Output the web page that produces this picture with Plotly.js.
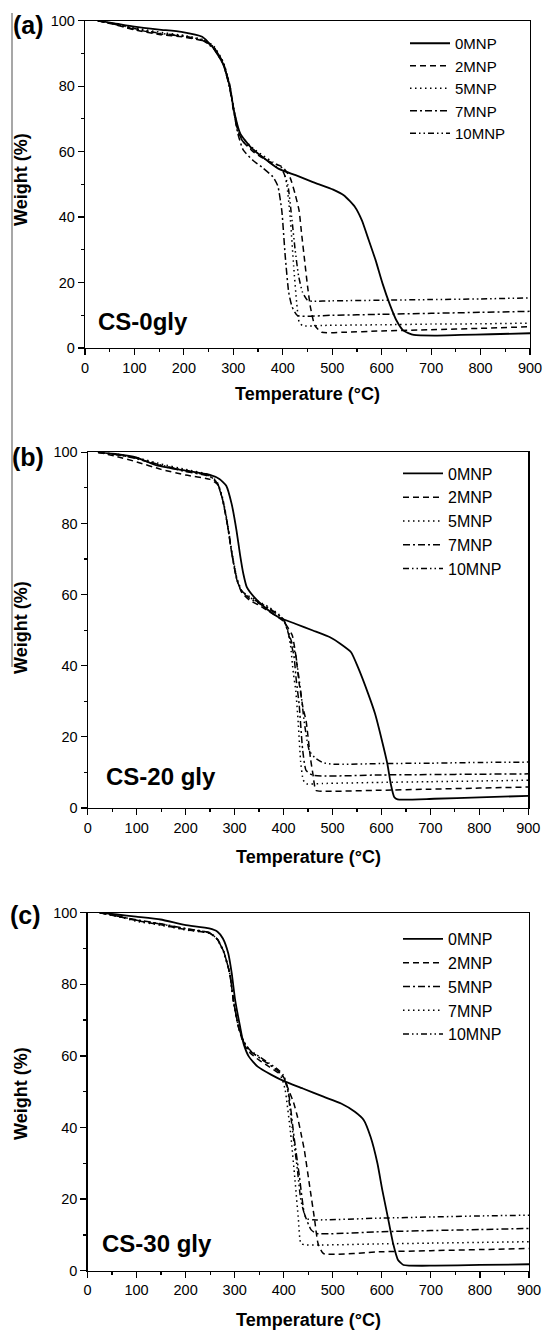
<!DOCTYPE html>
<html>
<head>
<meta charset="utf-8">
<script src="https://cdn.plot.ly/plotly-3.0.1.min.js"></script>
<style>html,body{margin:0;padding:0;background:#fff;}#chart{width:546px;height:1330px;}</style>
</head>
<body>
<div id="chart"></div>
<script>
// ---------- DATA ----------
const seriesNames = ['0MNP', '2MNP', '5MNP', '7MNP', '10MNP'];
const xTickVals = [0, 100, 200, 300, 400, 500, 600, 700, 800, 900];
const yTickVals = [0, 20, 40, 60, 80, 100];
const panelLabels = ['(a)', '(b)', '(c)'];
const sampleLabels = ['CS-0gly', 'CS-20 gly', 'CS-30 gly'];

// Panel (a) CS-0gly
const aT0 = [26,60,100,150,195,237,258,279,293,301,314,335,363,391,426,461,502,524,546,560,574,588,602,616,630,644,665,707,760,820,900];
const aW0 = [100,99.2,98.2,97.3,96.6,95.1,92.0,86.9,79.8,72.7,65.5,61.4,57.9,54.8,52.8,50.7,48.4,46.6,43.1,39,32.9,26.7,19.6,13.5,8.4,5.3,4.0,3.8,4.0,4.2,4.5];
const aT2 = [26,60,100,150,200,240,260,280,293,301,310,320,340,360,380,400,415,425,433,438,444,450,456,465,479,520,600,700,800,900];
const aW2 = [100,98.8,97.2,95.8,95.0,93.8,92.0,87.0,80.0,72.5,66.0,63.0,60.0,58.0,56.5,55.3,52.0,47.0,42.0,35.0,27.0,19.0,12.4,6.8,4.8,4.8,5.2,5.6,6.0,6.5];
const aT5 = [26,60,100,150,200,240,260,280,293,301,310,320,340,360,380,400,408,415,422,428,433,440,480,600,700,800,900];
const aW5 = [100,99,97.8,96.5,95.5,94.2,92.3,87.3,80.3,73,66.5,64,61,58.8,56.8,54.8,50,40,25,14,8,6.8,6.9,7.1,7.3,7.4,7.6];
const aT7 = [26,60,100,150,200,240,260,280,293,301,310,320,340,360,380,390,398,405,412,419,430,500,600,700,800,900];
const aW7 = [100,98.9,97.4,96,95.2,93.8,91.5,86.5,79,72,65,60.5,57.3,55,52.3,49.5,42,28,17,12.5,9.9,10,10.3,10.6,10.9,11.2];
const aT10 = [26,60,100,150,200,240,260,280,293,301,310,320,340,360,380,400,410,418,425,432,440,450,460,500,600,700,800,900];
const aW10 = [100,99,97.6,96.2,95.3,94,92,87,79.5,72.3,65.5,63,60.5,58.2,56,54,50,40,30,22,17,14.6,14.3,14.4,14.6,14.8,15,15.3];

// Panel (b) CS-20 gly
const bT0 = [21,60,99,141,198,248,269,283,294,304,311,318,325,340,361,389,424,460,495,516,538,552,573,587,601,612,619,626,633,708,800,900];
const bW0 = [100,99.5,98.6,96.3,94.9,93.7,92.5,90.6,85.5,78,71.4,65.8,62.1,59.3,56.5,53.7,51.8,49.9,48,46.2,43.8,39.6,32.1,26.5,19,12.5,6.8,3.1,2.4,2.6,3.0,3.4];
const bT2 = [21,60,100,150,200,250,265,275,285,295,305,315,330,350,370,390,400,410,418,425,432,440,446,455,460,466,478,600,700,800,900];
const bW2 = [100,98.8,97.3,95.2,93.6,92.4,91,87,80,71,64,60.5,58.5,57,55.3,53.5,52.5,50.5,48.5,43,35,28,24.6,14,9.6,5,4.7,5.0,5.3,5.6,5.9];
const bT5 = [21,60,100,150,200,250,265,275,285,295,305,315,330,350,370,390,400,408,414,420,425,430,435,440,446,480,600,700,800,900];
const bW5 = [100,99.5,98.5,96.7,95.2,93.6,91.5,87.5,80.5,71.5,64.5,61,59.5,58,56.5,54.5,53,50,46,38,33,24,13,8,6.8,6.9,7.2,7.4,7.6,7.8];
const bT7 = [21,60,100,150,200,250,265,275,285,295,305,315,330,350,370,390,400,410,421,426,432,439,446,460,600,700,800,900];
const bW7 = [100,99.3,98.2,96.2,94.6,93.2,91.2,87,80,71,64,60.8,59,57.5,56,54.2,53,49,43,36,29,16.5,10.6,9.2,9.3,9.4,9.5,9.6];
const bT10 = [21,60,100,150,200,250,265,275,285,295,305,315,330,350,370,390,400,410,418,425,430,435,442,448,453,465,480,502,600,700,800,900];
const bW10 = [100,99.3,98.3,96.4,94.8,93.3,91.3,87.2,80.2,71.2,64.2,61,59.3,57.8,56.2,54.3,53,49.5,46,43,38,33,24.6,19,16,14,12.8,12.3,12.5,12.6,12.8,12.9];

// Panel (c) CS-30 gly
const cT0 = [25,60,99,149,198,248,265,276,287,294,301,311,318,329,347,375,403,439,481,517,545,563,577,591,601,612,623,633,644,708,800,900];
const cW0 = [100,99.5,98.9,98.1,96.6,95.6,94.7,92.8,88.6,83.1,75.6,68.2,63.5,59.8,57,54.7,52.8,50.9,48.6,46.7,44.4,42.1,37.4,30,22.5,15.1,7.6,3,1.6,1.4,1.6,1.8];
const cT2 = [25,60,100,150,200,250,265,278,290,298,308,318,330,350,370,390,400,410,420,428,435,442,453,463,470,481,600,700,800,900];
const cW2 = [100,99,97.8,96.6,95.3,94.2,92.5,89,83,75,68,63.5,61,58.8,57,55.2,54,50.5,47,43,38.5,33.7,23.5,14.2,7.6,4.8,5.3,5.6,5.9,6.2];
const cT5 = [25,60,100,150,200,250,265,278,290,298,308,318,330,350,370,390,400,410,421,432,442,456,467,600,700,800,900];
const cW5 = [100,99.1,98,96.9,95.6,94.4,92.6,89,83,75,68,64,61.5,59.5,57.6,55.6,54,49.5,37.4,26.3,16,11.4,10.4,10.9,11.2,11.5,11.8];
const cT7 = [25,60,100,150,200,250,265,278,290,298,308,318,330,350,370,390,398,403,414,423,430,435,446,600,700,800,900];
const cW7 = [100,99,97.6,96.5,95.2,94.2,92.4,88.8,82.8,74.8,67.8,64,61.6,59.6,57.8,55.5,53,50.5,38.4,25.3,14.2,7.6,7.2,7.5,7.7,7.9,8.1];
const cT10 = [25,60,100,150,200,250,265,278,290,298,308,318,330,350,370,390,400,407,417,428,435,446,460,600,700,800,900];
const cW10 = [100,99.1,97.9,96.8,95.5,94.3,92.5,89,83,75,68,64.2,61.8,59.8,58,56,54.5,51.4,40.2,28.1,19.7,14.6,14.2,14.7,15,15.3,15.5];

// ---------- STYLES ----------
const DASH = {
  solid: 'solid',
  dash: '6px,4px',
  dot: '1.5px,3.5px',
  dashdot: '7px,3px,2px,3px',
  dashdotdot: '6px,3px,1.5px,3px,1.5px,3px'
};
const stylesAB = ['solid', 'dash', 'dot', 'dashdot', 'dashdotdot'];
const stylesC  = ['solid', 'dash', 'dashdot', 'dot', 'dashdotdot'];

const panels = [
  {T: [aT0, aT2, aT5, aT7, aT10], W: [aW0, aW2, aW5, aW7, aW10], styles: stylesAB, ax: '', leg: 'legend'},
  {T: [bT0, bT2, bT5, bT7, bT10], W: [bW0, bW2, bW5, bW7, bW10], styles: stylesAB, ax: '2', leg: 'legend2'},
  {T: [cT0, cT2, cT5, cT7, cT10], W: [cW0, cW2, cW5, cW7, cW10], styles: stylesC, ax: '3', leg: 'legend3'}
];

const traces = [];
panels.forEach(p => {
  for (let i = 0; i < seriesNames.length; i++) {
    traces.push({
      type: 'scatter', mode: 'lines',
      x: p.T[i], y: p.W[i], name: seriesNames[i],
      xaxis: 'x' + p.ax, yaxis: 'y' + p.ax, legend: p.leg,
      line: {color: '#000', width: i === 0 ? 1.8 : 1.5, dash: DASH[p.styles[i]], shape: 'spline', smoothing: 0.5},
      hoverinfo: 'skip'
    });
  }
});

const W = 546, H = 1330;
const px = v => v / W;
const py = v => 1 - v / H;
const FONT = 'Liberation Sans, Arial, sans-serif';

function xAx(dom, anchor) {
  return {
    domain: dom, anchor: anchor, range: [0, 900], tickvals: xTickVals,
    ticks: 'outside', ticklen: 6, tickwidth: 1.2, tickcolor: '#000',
    minor: {ticks: 'outside', ticklen: 3, tickwidth: 1.2, tickcolor: '#000', dtick: 50, tick0: 0},
    showline: true, linecolor: '#000', linewidth: 1.2, mirror: true,
    showgrid: false, zeroline: false,
    tickfont: {family: FONT, size: 14.5, color: '#000'}
  };
}
function yAx(dom, anchor) {
  return {
    domain: dom, anchor: anchor, range: [0, 100], tickvals: yTickVals,
    ticks: 'outside', ticklen: 6, tickwidth: 1.2, tickcolor: '#000',
    minor: {ticks: 'outside', ticklen: 3, tickwidth: 1.2, tickcolor: '#000', dtick: 10, tick0: 0},
    showline: true, linecolor: '#000', linewidth: 1.2, mirror: true,
    showgrid: false, zeroline: false,
    tickfont: {family: FONT, size: 14.5, color: '#000'}
  };
}

function leg(x, y, size) {
  return {x: x, y: y, xanchor: 'left', yanchor: 'top', bgcolor: 'rgba(0,0,0,0)', borderwidth: 0,
    itemwidth: 40, font: {family: FONT, size: size, color: '#000'}, tracegroupgap: 0};
}

const ann = [];
function A(text, x, y, size, opts) {
  ann.push(Object.assign({text: text, x: x, y: y, xref: 'paper', yref: 'paper', showarrow: false,
    xanchor: 'center', yanchor: 'middle', font: {family: FONT, size: size, color: '#000'}}, opts || {}));
}
// panel letters
A('<b>' + panelLabels[0] + '</b>', px(28), py(25), 25);
A('<b>' + panelLabels[1] + '</b>', px(28), py(457), 25);
A('<b>' + panelLabels[2] + '</b>', px(25), py(915), 25);
// y titles
A('<b>Weight (%)</b>', px(21), py(180), 18, {textangle: -90});
A('<b>Weight (%)</b>', px(21), py(628), 18, {textangle: -90});
A('<b>Weight (%)</b>', px(21), py(1094), 18, {textangle: -90});
// x titles
A('<b>Temperature (°C)</b>', px(307.5), py(394), 18);
A('<b>Temperature (°C)</b>', px(308), py(857), 18);
A('<b>Temperature (°C)</b>', px(308), py(1320), 18);
// sample labels
A('<b>' + sampleLabels[0] + '</b>', px(96), py(322), 24, {xanchor: 'left'});
A('<b>' + sampleLabels[1] + '</b>', px(104), py(776), 24, {xanchor: 'left'});
A('<b>' + sampleLabels[2] + '</b>', px(100), py(1243), 24, {xanchor: 'left'});

const layout = {
  width: W, height: H,
  margin: {l: 0, r: 0, t: 0, b: 0},
  paper_bgcolor: '#fff', plot_bgcolor: '#fff',
  showlegend: true,
  font: {family: FONT, color: '#000'},
  xaxis: xAx([px(85), px(530)], 'y'),
  yaxis: yAx([py(348), py(20.7)], 'x'),
  xaxis2: xAx([px(87.7), px(528.3)], 'y2'),
  yaxis2: yAx([py(808), py(452.3)], 'x2'),
  xaxis3: xAx([px(87.5), px(529)], 'y3'),
  yaxis3: yAx([py(1270.7), py(912.7)], 'x3'),
  legend: leg(px(405), py(27), 15),
  legend2: leg(px(398), py(456.5), 16),
  legend3: leg(px(398), py(922), 16),
  annotations: ann,
  shapes: [{type: 'line', xref: 'paper', yref: 'paper', x0: px(12), x1: px(12), y0: py(13), y1: py(667),
    line: {color: '#8a8a8a', width: 1.5}}]
};

Plotly.newPlot('chart', traces, layout, {staticPlot: true, displayModeBar: false});
</script>
</body>
</html>
